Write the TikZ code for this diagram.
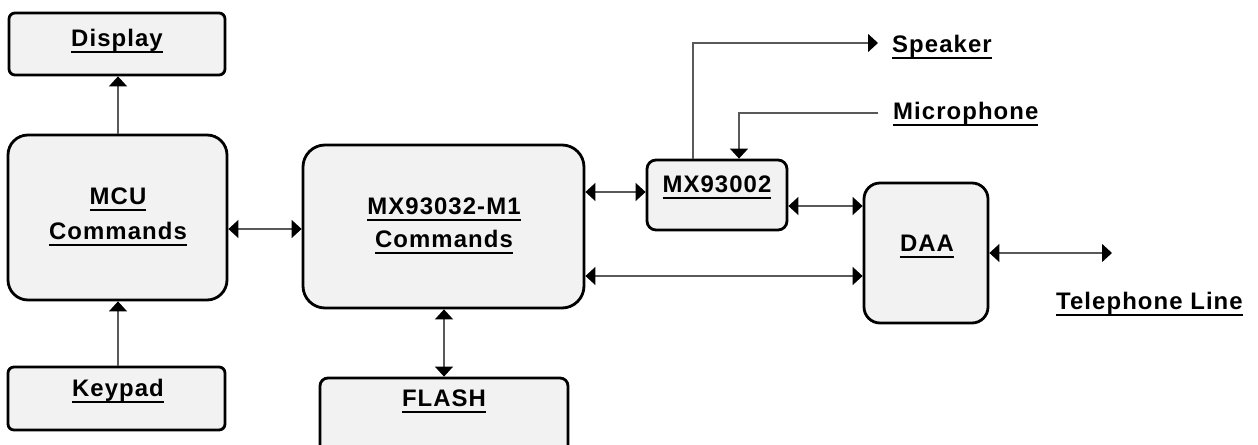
\documentclass[tikz,border=0pt]{standalone}
\usepackage{fontspec}
\setmainfont{Liberation Sans}[LetterSpace=4.5]
\usetikzlibrary{arrows.meta}
\newcommand{\ulx}[1]{\setbox0\hbox{#1}\rlap{\rule[-6bp]{\wd0}{2bp}}\box0}
\begin{document}
\begin{tikzpicture}[x=1bp,y=-1bp,
  box/.style={draw=black, line width=2.8bp, fill=black!5, inner sep=0},
  txt/.style={anchor=base, inner sep=0, font=\fontsize{24}{28}\selectfont\bfseries},
  conn/.style={draw=black!65, line width=1.4bp},
  arr/.style={-{Triangle[length=10bp,width=18bp,color=black]}},
  arrb/.style={{Triangle[length=10bp,width=18bp,color=black]}-{Triangle[length=10bp,width=18bp,color=black]}}
]
\useasboundingbox (0,0) rectangle (1258,445);
\clip (0,0) rectangle (1258,445);

% boxes
\node[box, rounded corners=6bp, minimum width=216bp, minimum height=62bp] (disp) at (117,44) {};
\node[box, rounded corners=20bp, minimum width=219bp, minimum height=165bp] (mcu) at (117.5,217.5) {};
\node[box, rounded corners=6bp, minimum width=217bp, minimum height=63bp] (key) at (116.5,398.5) {};
\node[box, rounded corners=22bp, minimum width=281bp, minimum height=163bp] (mx32) at (443.5,226.5) {};
\node[box, rounded corners=8bp, minimum width=248bp, minimum height=92bp] (flash) at (444,424) {};
\node[box, rounded corners=9bp, minimum width=140bp, minimum height=70bp] (mx02) at (717,195) {};
\node[box, rounded corners=16bp, minimum width=124bp, minimum height=140bp] (daa) at (926,253) {};

% texts
\node[txt] (dispT) at (117,47) {\ulx{Display}};
\node[txt] (mcuT1) at (118,205) {\ulx{MCU}};
\node[txt] (mcuT2) at (118,240) {\ulx{Commands}};
\node[txt] (keyT) at (118,397) {\ulx{Keypad}};
\node[txt] (mx32T1) at (444,215) {\ulx{MX93032-M1}};
\node[txt] (mx32T2) at (444,248) {\ulx{Commands}};
\node[txt] (flashT) at (444,407) {\ulx{FLASH}};
\node[txt] (mx02T) at (717,193) {\ulx{MX93002}};
\node[txt] (daaT) at (927,252) {\ulx{DAA}};
\node[txt, anchor=base west] (spkT) at (892,53) {\ulx{Speaker}};
\node[txt, anchor=base west] (micT) at (893,120) {\ulx{Microphone}};
\node[txt, anchor=base west] (telT) at (1056,310) {\ulx{Telephone Line}};

% free ends
\coordinate (spk) at (878,43);
\coordinate (mic) at (878,113);
\coordinate (tel) at (1112,253);

% connectors
\draw[conn, arr] (mcu.north -| 118,0) -- (disp.south -| 118,0);
\draw[conn, arr] (key.north -| 118,0) -- (mcu.south -| 118,0);
\draw[conn, arrb] (mcu.east |- 0,229) -- (mx32.west |- 0,229);
\draw[conn, arrb] (mx32.south -| 444,0) -- (flash.north -| 444,0);
\draw[conn, arrb] (mx32.east |- 0,192) -- (mx02.west |- 0,192);
\draw[conn, arrb] (mx32.east |- 0,276) -- (daa.west |- 0,276);
\draw[conn, arrb] (mx02.east |- 0,206) -- (daa.west |- 0,206);
\draw[conn, arrb] (daa.east |- tel) -- (tel);
\draw[conn, arr] (mx02.north -| 693,0) |- (spk);
\draw[conn, arr] (mic) -| (mx02.north -| 739,0);
\end{tikzpicture}
\end{document}
